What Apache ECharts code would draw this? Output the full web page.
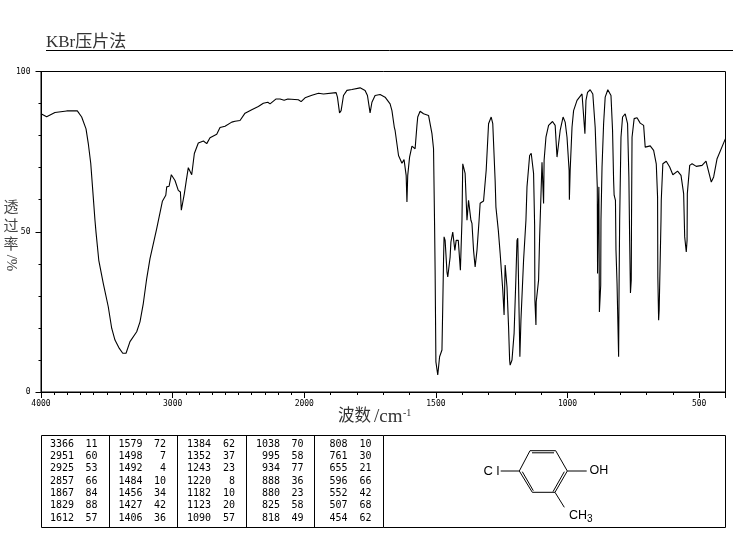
<!DOCTYPE html>
<html><head><meta charset="utf-8">
<style>html,body{margin:0;padding:0;background:#fff}#c{width:737px;height:539px}</style>
<script src="https://cdn.jsdelivr.net/npm/echarts@6/dist/echarts.min.js"></script>
</head><body><div id="c"></div>
<script>
const wavenumbers=[4000,3957,3894,3805,3724,3691,3658,3641,3622,3603,3590,3582,3561,3527,3489,3463,3438,3405,3379,3354,3324,3273,3248,3223,3197,3172,3121,3078,3052,3045,3027,3010,2982,2969,2957,2941,2934,2923,2911,2898,2881,2855,2835,2805,2766,2741,2716,2665,2640,2602,2551,2526,2488,2450,2399,2349,2311,2277,2260,2216,2184,2153,2125,2045,2024,1997,1971,1946,1927,1879,1874,1866,1860,1851,1838,1819,1788,1769,1760,1750,1743,1731,1712,1693,1674,1667,1658,1655,1642,1629,1621,1613,1610,1607,1600,1591,1579,1572,1569,1560,1547,1528,1515,1509,1505,1503,1500,1493,1486,1477,1474,1471,1469,1465,1458,1455,1446,1443,1436,1428,1423,1415,1407,1404,1401,1398,1393,1389,1382,1376,1372,1367,1363,1357,1351,1344,1336,1332,1319,1309,1300,1290,1284,1275,1272,1263,1256,1246,1241,1237,1232,1230,1224,1220,1218,1211,1203,1196,1192,1189,1184,1181,1177,1167,1158,1154,1144,1138,1129,1125,1124,1120,1119,1110,1106,1104,1097,1091,1089,1082,1072,1057,1047,1040,1037,1028,1017,1009,1002,994,993,990,983,977,964,945,939,934,930,924,914,904,895,887,886,884,881,879,874,873,869,863,857,847,835,829,825,823,818,816,812,806,804,802,797,791,781,772,767,764,761,758,757,755,747,736,724,711,705,686,673,663,658,657,654,652,645,644,638,625,612,600,582,569,559,555,549,546,545,536,527,511,489,474,467,454,445,432,403,400];
const transmittance=[86.8,85.9,87.2,87.7,87.7,85.8,82.1,77.6,71.3,60.8,53.6,49.8,41.1,33.9,26.6,19.9,16.2,13.6,12.1,12.1,15.7,18.8,21.9,27.6,35.4,41.6,51,59.5,61.4,64,64.2,67.8,66,65.8,62.9,62.4,56.7,56.7,61.9,65.5,70,67.8,74.4,77.7,78.3,77.5,79.3,80.4,82.5,82.9,84.2,84.5,84.7,87,88.1,89.1,90.1,90.4,89.9,91.4,91.4,91,91.4,91.2,90.6,91.8,92.6,93.2,93,93.4,92,87.1,87.8,92.5,94.1,94.4,94.9,94.1,92.5,87.1,90.4,92.5,92.8,92,89.9,87.8,82.6,81.6,73.8,71.4,72.5,67.6,59.3,67.6,73.3,76.7,75.9,83.2,85.8,87.6,86.8,86.3,80.6,75.9,52,38,9.4,5.3,11,13.1,26.6,41.1,48.4,47.3,37.5,35.9,42.1,46.8,49.9,44.2,47.3,47.3,38,38,53.6,71.2,71.4,68.2,53.6,59.8,60.3,53.6,52.6,44.2,39,44.2,53.6,58.9,59.6,69.2,83.7,85.8,83.7,66,57.7,50.5,43.3,31.8,24,39.6,39.6,32.8,20.3,10,8.4,10,18.3,35.9,47.3,48,24.6,11,22.4,41.1,53.6,64,73.8,74.5,68.2,52,28.7,20.9,28.1,34.9,48.4,53.6,71.7,58.8,72.3,79.5,83.2,84.4,83.2,73.3,72.8,81.6,85.8,84.2,79.5,69.2,60,69.2,82.6,87.8,91,93,92.5,80.6,91,93.5,94.3,93,82.6,64,37,53.6,64,25,33.3,53.6,70.2,83.7,92,94.3,92.5,81.6,66,61.4,59.8,44.2,34,11,35.5,53.6,79.5,85.8,86.8,83.7,67.1,47.3,30.9,34.9,53.6,79.5,85.3,85.6,83.9,83.2,76.4,76.8,75.4,71.2,60.8,35.9,22.4,25.5,53.6,59.8,71.2,72,70.2,67.8,68.9,67.6,61.9,48.4,43.7,47.3,61.9,70.7,71.2,70.4,70.7,72,69.7,65.5,67.1,72.8,78.5,79];
const xLabelTicks=[4000,3000,2000,1500,1000,500];
const xMinorTicks=[4000,3900,3800,3700,3600,3500,3400,3300,3200,3100,3000,2900,2800,2700,2600,2500,2400,2300,2200,2100,2000,1900,1800,1700,1600,1500,1400,1300,1200,1100,1000,900,800,700,600,500,400];
const yLabelTicks=[0,50,100];
const tableWn=[[3366,2951,2925,2857,1867,1829,1612],[1579,1498,1492,1484,1456,1427,1406],[1384,1352,1243,1220,1182,1123,1090],[1038,995,934,888,880,825,818],[808,761,655,596,552,507,454]];
const tableT=[[11,60,53,66,84,88,57],[72,7,4,10,34,42,36],[62,37,23,8,10,20,57],[70,58,77,36,23,58,49],[10,30,21,66,42,68,62]];

const toAxis=w=>w>=2000?4000-w:2000+(2000-w)*2;
const fromAxis=u=>u<=2000?4000-u:2000-(u-2000)/2;
const MONO='"DejaVu Sans Mono",monospace';
const SERIF='"Liberation Serif","Noto Sans CJK SC",serif';
const SANS='"Liberation Sans","DejaVu Sans",sans-serif';
const INK='#000';

function txt(x,y,text,font,size,opt){
  return {type:'text',x:x,y:y,silent:true,style:Object.assign({text:text,font:size+'px '+font,fill:INK,textAlign:'left',textVerticalAlign:'middle'},opt||{})};
}
function ln(x1,y1,x2,y2,w){
  return {type:'line',silent:true,shape:{x1:x1,y1:y1,x2:x2,y2:y2},style:{stroke:'#000',lineWidth:w||1}};
}
const g=[];
g.push(txt(46,43,'KBr压片法',SERIF,17,{fill:'#333'}));
g.push(ln(46,50.5,733,50.5,1));
[['透',208],['过',227],['率',245]].forEach(a=>g.push(txt(11,a[1],a[0],SERIF,15,{textAlign:'center',fill:'#444'})));
g.push({type:'text',x:11,y:263,rotation:-Math.PI/2,silent:true,style:{text:'/%',font:'15px '+SERIF,fill:'#444',textAlign:'center',textVerticalAlign:'middle'}});
g.push(txt(338,417,'波数',SERIF,16.5,{fill:'#333'}));
g.push(txt(374,417,'/cm',SERIF,19,{fill:'#333'}));
g.push(txt(403,413,'-1',SERIF,10,{fill:'#333'}));
g.push({type:'rect',silent:true,shape:{x:41.5,y:435.5,width:684,height:92},style:{fill:'none',stroke:'#000',lineWidth:1}});
[109.5,177.5,246.5,314.5,383.5].forEach(x=>g.push(ln(x,435.5,x,527.5,1)));
const wnRight=[74,142.5,211,280,347.5], tRight=[97.5,166,235,303.5,371.5];
tableWn.forEach((col,c)=>col.forEach((w,r)=>{
  const y=444.3+r*12.3;
  g.push(txt(wnRight[c],y,String(w),MONO,10,{textAlign:'right'}));
  g.push(txt(tRight[c],y,String(tableT[c][r]),MONO,10,{textAlign:'right'}));
}));
[[519.3,471,530,450.7],[530,450.7,555.7,450.7],[555.7,450.7,567.3,471],[567.3,471,555,492.3],[555,492.3,532.3,492.3],[532.3,492.3,519.3,471],
 [532,452.8,554,452.8],[522.3,471.7,533.3,490.7],[564.3,471.7,553,491.7],
 [500.7,471,519.3,471],[567.3,471,586.7,471],[555,492.3,564.3,507.3]].forEach(s=>g.push(ln(s[0],s[1],s[2],s[3],1)));
g.push(txt(483.5,471,'C l',SANS,13));
g.push(txt(589.5,471,'OH',SANS,12.5));
g.push(txt(569,515.5,'CH',SANS,12.5));
g.push(txt(587,519.5,'3',SANS,10));

const axisLine={show:true,lineStyle:{color:'#000',width:1}};
const option={
  animation:false,
  backgroundColor:'#fff',
  grid:{left:41,right:11.5,top:71.5,bottom:147,show:true,borderColor:'#000',borderWidth:1,backgroundColor:'transparent'},
  xAxis:[
    {type:'value',min:0,max:5200,position:'bottom',axisLine:axisLine,splitLine:{show:false},
     axisTick:{show:true,customValues:xLabelTicks.concat([400]).map(toAxis),length:6,lineStyle:{color:'#000'}},
     axisLabel:{show:true,customValues:xLabelTicks.map(toAxis),formatter:v=>String(Math.round(fromAxis(v))),fontFamily:MONO,fontSize:8,color:INK,margin:8}},
    {type:'value',min:0,max:5200,position:'bottom',axisLine:{show:false},splitLine:{show:false},
     axisTick:{show:true,customValues:xMinorTicks.map(toAxis),length:3,lineStyle:{color:'#000'}},
     axisLabel:{show:false}}
  ],
  yAxis:[
    {type:'value',min:0,max:100,interval:10,position:'left',axisLine:axisLine,splitLine:{show:false},
     axisTick:{show:true,customValues:yLabelTicks,length:5.5,lineStyle:{color:'#000'}},
     axisLabel:{show:true,customValues:yLabelTicks,fontFamily:MONO,fontSize:8,color:INK,margin:10.5}},
    {type:'value',min:0,max:100,interval:10,position:'left',axisLine:{show:false},splitLine:{show:false},
     axisTick:{show:true,length:2.5,lineStyle:{color:'#000'}},axisLabel:{show:false}}
  ],
  series:[{type:'line',xAxisIndex:0,yAxisIndex:0,showSymbol:false,symbol:'none',smooth:false,clip:true,
    lineStyle:{color:'#000',width:1.1},
    data:wavenumbers.map((w,i)=>[toAxis(w),transmittance[i]])}],
  graphic:{elements:g}
};
const chart=echarts.init(document.getElementById('c'),null,{width:737,height:539,renderer:'canvas'});
chart.setOption(option);
</script></body></html>
